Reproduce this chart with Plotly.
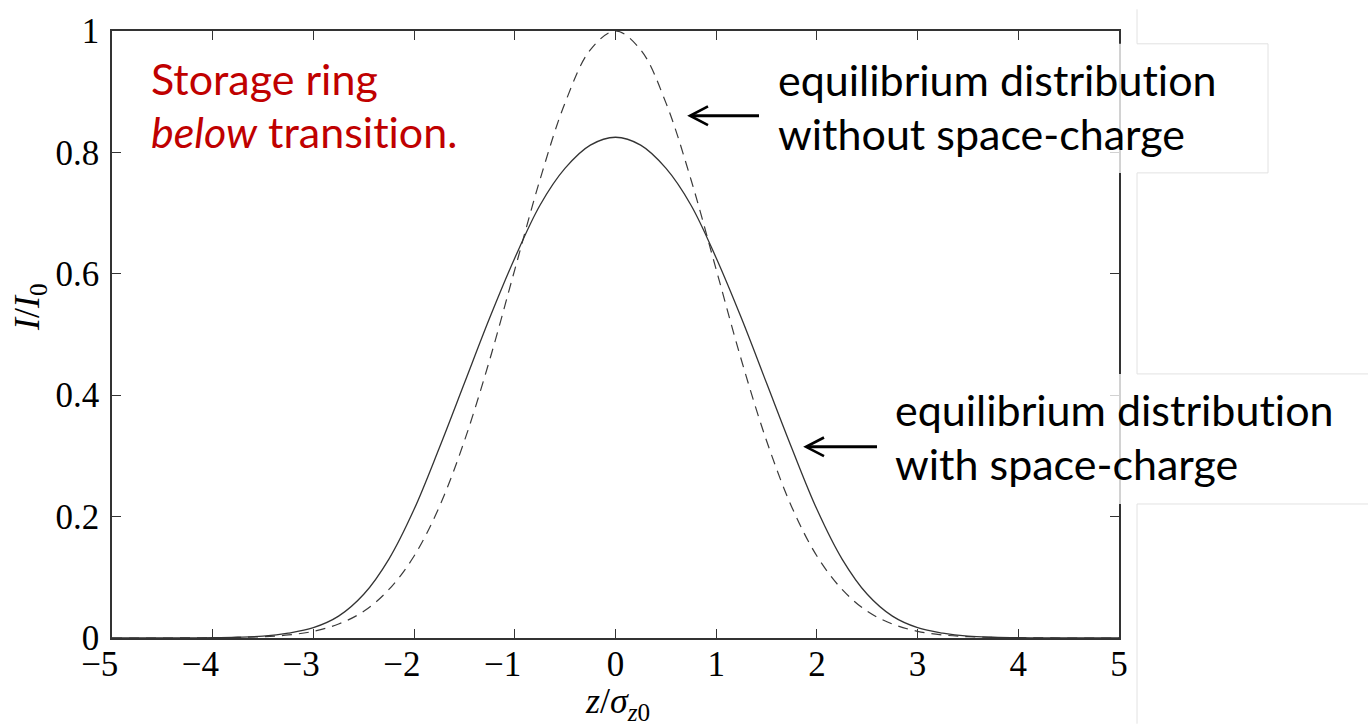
import plotly.graph_objects as go

# ---- data ----
z = [-5.0, -4.75, -4.5, -4.25, -4.0, -3.75, -3.5, -3.25, -3.0, -2.75, -2.5,
     -2.25, -2.0, -1.75, -1.5, -1.25, -1.0, -0.75, -0.5, -0.25, 0.0,
     0.25, 0.5, 0.75, 1.0, 1.25, 1.5, 1.75, 2.0, 2.25, 2.5,
     2.75, 3.0, 3.25, 3.5, 3.75, 4.0, 4.25, 4.5, 4.75, 5.0]

without_sc = [0.0, 0.0, 0.0, 0.0001, 0.0003, 0.0009, 0.0022, 0.005, 0.011, 0.023, 0.044,
              0.08, 0.135, 0.216, 0.325, 0.458, 0.607, 0.755, 0.882, 0.969, 1.0,
              0.969, 0.882, 0.755, 0.607, 0.458, 0.325, 0.216, 0.135, 0.08, 0.044,
              0.023, 0.011, 0.005, 0.0022, 0.0009, 0.0003, 0.0001, 0.0, 0.0, 0.0]

with_sc = [0.0, 0.0, 0.0, 0.0001, 0.0004, 0.0012, 0.003, 0.008, 0.017, 0.036, 0.072,
           0.13, 0.212, 0.313, 0.42, 0.527, 0.626, 0.713, 0.774, 0.812, 0.825,
           0.812, 0.774, 0.713, 0.626, 0.527, 0.42, 0.313, 0.212, 0.13, 0.072,
           0.036, 0.017, 0.008, 0.003, 0.0012, 0.0004, 0.0001, 0.0, 0.0, 0.0]

x_ticks = [-5, -4, -3, -2, -1, 0, 1, 2, 3, 4, 5]
PAD = "\u2002\u2009"  # keeps the digit (not the minus) centred on its tick
x_ticktext = ["\u22125" + PAD, "\u22124" + PAD, "\u22123" + PAD, "\u22122" + PAD, "\u22121" + PAD,
              "0", "1", "2", "3", "4", "5"]
y_ticks = [0, 0.2, 0.4, 0.6, 0.8, 1.0]
y_ticktext = ["0", "0.2", "0.4", "0.6", "0.8", "1"]

# ---- layout geometry (pixels) ----
W, H = 1368, 725
L, R, T, B = 112, 1119, 22, 638


def PX(x):
    return (x - L) / (R - L)


def PY(y):
    return (B - y) / (B - T)


fig = go.Figure()
fig.add_trace(go.Scatter(x=z, y=without_sc, mode="lines", hoverinfo="skip",
                         line=dict(color="#3a3a3a", width=1.2, dash="10px,7px", shape="spline")))
fig.add_trace(go.Scatter(x=z, y=with_sc, mode="lines", hoverinfo="skip",
                         line=dict(color="#333333", width=1.3, shape="spline")))

axis_common = dict(ticks="inside", ticklen=9, tickwidth=1.2, tickcolor="#333",
                   showline=True, linecolor="#333", linewidth=1.5, mirror="ticks",
                   showgrid=False, zeroline=False,
                   tickfont=dict(family="Liberation Serif", size=35, color="black"))

fig.update_layout(
    width=W, height=H,
    margin=dict(l=L, r=W - R, t=T, b=H - B, pad=0),
    paper_bgcolor="white", plot_bgcolor="white", showlegend=False,
    xaxis=dict(range=[-5, 5], tickvals=x_ticks, ticktext=x_ticktext,
               ticklabelstandoff=-6, **axis_common),
    yaxis=dict(range=[0, 1], tickvals=y_ticks, ticktext=y_ticktext,
               ticklabelstandoff=4, **axis_common),
)

faint = "#e2e2e2"
shapes = []
# faint outline of the pasted figure / text boxes
for y0, y1 in [(0, 35), (166, 370), (502, 725)]:
    shapes.append(dict(type="line", xref="paper", yref="paper", x0=PX(1137), x1=PX(1137),
                       y0=PY(y0), y1=PY(y1), line=dict(color=faint, width=1), layer="above"))
shapes.append(dict(type="path", xref="paper", yref="paper",
                   path=f"M{PX(1137)},{PY(35)} L{PX(1268)},{PY(35)} L{PX(1268)},{PY(166)} L{PX(1137)},{PY(166)}",
                   line=dict(color=faint, width=1), layer="above"))
for yy in (370, 502):
    shapes.append(dict(type="line", xref="paper", yref="paper", x0=PX(1137), x1=PX(1368),
                       y0=PY(yy), y1=PY(yy), line=dict(color=faint, width=1), layer="above"))
# semi-transparent white text boxes covering the right frame
for y0, y1 in [(35, 166), (370, 502)]:
    shapes.append(dict(type="rect", xref="paper", yref="paper", x0=PX(1098), x1=PX(1136.5),
                       y0=PY(y1), y1=PY(y0), fillcolor="rgba(255,255,255,0.78)",
                       line=dict(width=0), layer="above"))


# arrows
def arrow(tip_x, tip_y, tail_x, arm_dx=18, arm_dy=9.5):
    return [dict(type="line", xref="paper", yref="paper", x0=PX(tip_x + 1), x1=PX(tail_x),
                 y0=PY(tip_y), y1=PY(tip_y), line=dict(color="black", width=3), layer="above"),
            dict(type="path", xref="paper", yref="paper",
                 path=f"M{PX(tip_x + arm_dx)},{PY(tip_y - arm_dy)} L{PX(tip_x)},{PY(tip_y)} L{PX(tip_x + arm_dx)},{PY(tip_y + arm_dy)}",
                 line=dict(color="black", width=2.6), layer="above")]


shapes += arrow(690, 108, 759)
shapes += arrow(806, 444, 877)
fig.update_layout(shapes=shapes)

txt_font = dict(family="Lato", size=43, color="black")
red_font = dict(family="Lato", size=43, color="#C00000")
ann = []
ZW = "\u200c"  # breaks the Lato "ti" ligature


def text(x, y, s, font):
    ann.append(dict(xref="paper", yref="paper", x=PX(x), y=PY(y), text=s, showarrow=False,
                    xanchor="left", yanchor="middle", font=font, borderpad=0))


text(150, 70, "Storage ring", red_font)
text(150, 124, f"<i>below</i> transit{ZW}ion.", red_font)
text(777, 71, f"equilibrium distribut{ZW}ion", txt_font)
text(777, 126, "without space-charge", txt_font)
text(894, 406, f"equilibrium distribut{ZW}ion", txt_font)
text(894, 461, "with space-charge", txt_font)

# axis titles
ann.append(dict(xref="paper", yref="paper", x=PX(617), y=PY(704),
                text="<i>z</i>/<i>σ</i><sub><i>z</i>0</sub>", showarrow=False,
                xanchor="center", yanchor="middle",
                font=dict(family="Liberation Serif", size=36, color="black")))
ann.append(dict(xref="paper", yref="paper", x=PX(30), y=PY(302),
                text="<i>I</i>/<i>I</i><sub>0</sub>", showarrow=False, textangle=-90,
                xanchor="center", yanchor="middle",
                font=dict(family="Liberation Serif", size=36, color="black")))
fig.update_layout(annotations=ann)

fig.write_html("out.html")
